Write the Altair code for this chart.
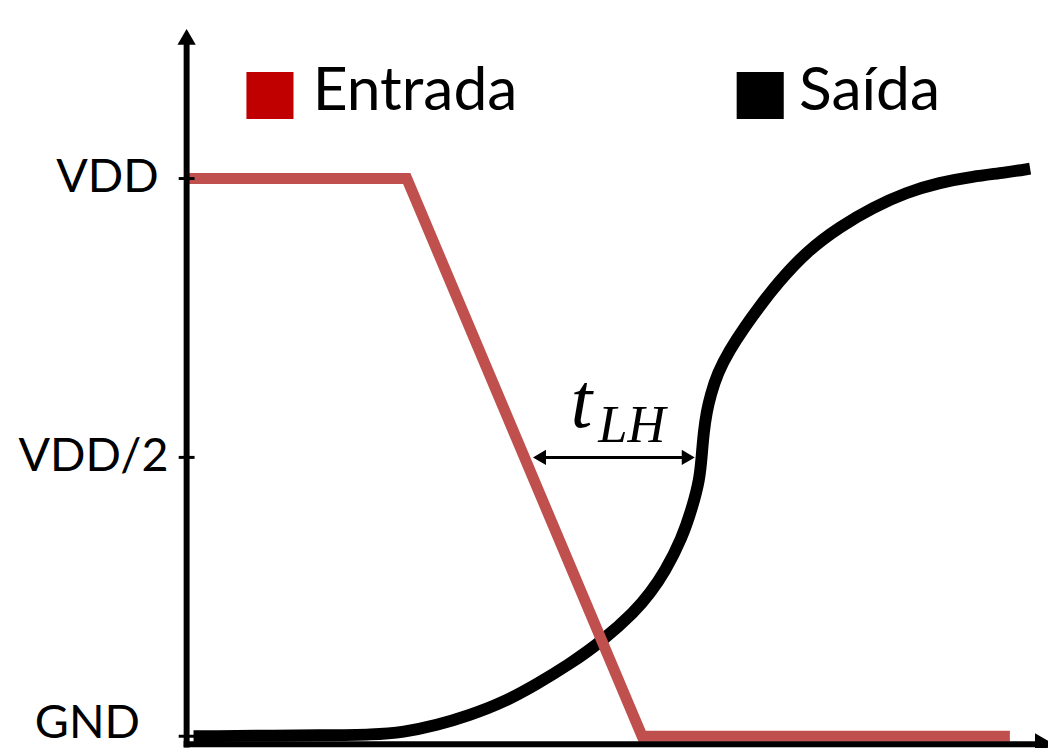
import altair as alt
import pandas as pd

# ---- data (time in arbitrary units, voltage as fraction of VDD) ----
input_t = [0.0, 2.61, 5.40, 9.76]
input_v = [1.0, 1.0, 0.0, 0.0]

output_t = [0.082, 1.788, 2.176, 2.576, 2.965, 3.353, 3.753, 4.141, 4.529, 4.929,
            5.318, 5.494, 5.671, 5.871, 6.000, 6.082, 6.106, 6.129, 6.165, 6.212,
            6.294, 6.435, 6.612, 6.800, 7.000, 7.353, 7.753, 8.141, 8.529, 8.929,
            9.318, 9.706, 10.0]
output_v = [0.0, 0.0018, 0.0027, 0.0071, 0.0196, 0.0374, 0.0605, 0.0925, 0.1281, 0.1708,
            0.2242, 0.2562, 0.2954, 0.3541, 0.4128, 0.4609, 0.5018, 0.5445, 0.5819, 0.6121,
            0.6512, 0.6922, 0.7331, 0.7722, 0.8114, 0.8701, 0.9146, 0.9484, 0.9751, 0.9929,
            1.0036, 1.0107, 1.0178]

tick_levels = [0.0, 0.5, 1.0]
tick_labels = ["GND", "VDD/2", "VDD"]

legend_labels = ["Entrada", "Saída"]
legend_colors = ["#C00000", "#000000"]

delay_label = ("t", "LH")
delay_start_t = 4.106
delay_end_t = 6.024

# ---- scales ----
XS = alt.Scale(domain=[-2.1176, 10.2118], nice=False, zero=False)
YS = alt.Scale(domain=[-0.01601, 1.30071], nice=False, zero=False)


def enc(**kw):
    out = {}
    for k, v in kw.items():
        if k == "x":
            out[k] = alt.X(v, type="quantitative", scale=XS, axis=None)
        elif k == "x2":
            out[k] = alt.X2(v)
        elif k == "y":
            out[k] = alt.Y(v, type="quantitative", scale=YS, axis=None)
        elif k == "y2":
            out[k] = alt.Y2(v)
        else:
            out[k] = v
    return out


df_in = pd.DataFrame({"t": input_t, "v": input_v, "i": range(len(input_t))})
df_out = pd.DataFrame({"t": output_t, "v": output_v, "i": range(len(output_t))})

red_line = alt.Chart(df_in).mark_line(
    color="#C0504D", strokeWidth=11, strokeJoin="miter", strokeCap="butt"
).encode(**enc(x="t", y="v"), order="i:Q")

black_line = alt.Chart(df_out).mark_line(
    color="#000000", strokeWidth=12, interpolate="basis", strokeCap="butt"
).encode(**enc(x="t", y="v"), order="i:Q")

# axes
y_axis = alt.Chart(pd.DataFrame({"t": [0.0], "a": [-0.02], "b": [1.244]})).mark_rule(
    color="black", strokeWidth=6).encode(**enc(x="t", y="a", y2="b"))
x_axis = alt.Chart(pd.DataFrame({"a": [-0.035], "b": [10.08], "v": [-0.0142]})).mark_rule(
    color="black", strokeWidth=6).encode(**enc(x="a", x2="b", y="v"))
y_head = alt.Chart(pd.DataFrame({"t": [0.0], "v": [1.254]})).mark_point(
    shape="triangle-up", filled=True, size=340, color="black", opacity=1, strokeWidth=0
).encode(**enc(x="t", y="v"))
x_head = alt.Chart(pd.DataFrame({"t": [10.17], "v": [-0.0142]})).mark_point(
    shape="triangle-right", filled=True, size=484, color="black", opacity=1, strokeWidth=0
).encode(**enc(x="t", y="v"))

df_ticks = pd.DataFrame({"v": tick_levels, "a": -0.094, "b": 0.094, "lab": tick_labels})
ticks = alt.Chart(df_ticks).mark_rule(color="black", strokeWidth=3).encode(
    **enc(x="a", x2="b", y="v"))

label_pos = {"VDD": (-0.33, 0), "VDD/2": (-0.215, 0), "GND": (-0.553, -12)}
tick_texts = []
for lab, lev in zip(tick_labels, tick_levels):
    tx, dy = label_pos[lab]
    tick_texts.append(
        alt.Chart(pd.DataFrame({"t": [tx], "v": [lev], "lab": [lab]})).mark_text(
            font="Lato", fontSize=47, align="right", baseline="middle", color="black", dy=dy
        ).encode(**enc(x="t", y="v"), text="lab:N")
    )

# legend (manual)
df_leg = pd.DataFrame({"lab": legend_labels, "col": legend_colors,
                       "sq_t": [0.988, 6.80], "tx_t": [1.494, 7.26]})
leg_sq = alt.Chart(df_leg).mark_square(size=2250, opacity=1, strokeWidth=0).encode(
    x=alt.X("sq_t:Q", scale=XS, axis=None), y=alt.Y("v:Q", scale=YS, axis=None),
    color=alt.Color("col:N", scale=None)
).transform_calculate(v="1.149")
leg_tx = alt.Chart(df_leg).mark_text(
    font="Lato", fontSize=61, align="left", baseline="alphabetic", color="black"
).encode(x=alt.X("tx_t:Q", scale=XS, axis=None), y=alt.Y("v:Q", scale=YS, axis=None),
         text="lab:N").transform_calculate(v="1.123")

# delay annotation
arrow_line = alt.Chart(pd.DataFrame({"a": [delay_start_t + 0.05], "b": [delay_end_t - 0.05], "v": [0.5]})).mark_rule(
    color="black", strokeWidth=3).encode(**enc(x="a", x2="b", y="v"))
arrow_l = alt.Chart(pd.DataFrame({"t": [delay_start_t + 0.077], "v": [0.5]})).mark_point(
    shape="triangle-left", filled=True, size=230, color="black", opacity=1, strokeWidth=0
).encode(**enc(x="t", y="v"))
arrow_r = alt.Chart(pd.DataFrame({"t": [delay_end_t - 0.077], "v": [0.5]})).mark_point(
    shape="triangle-right", filled=True, size=230, color="black", opacity=1, strokeWidth=0
).encode(**enc(x="t", y="v"))
t_main = alt.Chart(pd.DataFrame({"t": [4.553], "v": [0.555], "s": [delay_label[0]]})).mark_text(
    font="Liberation Serif", fontStyle="italic", fontSize=78, align="left", baseline="alphabetic", color="black"
).encode(**enc(x="t", y="v"), text="s:N")
t_sub = alt.Chart(pd.DataFrame({"t": [4.88], "v": [0.527], "s": [delay_label[1]]})).mark_text(
    font="Liberation Serif", fontStyle="italic", fontSize=53, align="left", baseline="alphabetic", color="black"
).encode(**enc(x="t", y="v"), text="s:N")

chart = alt.layer(
    black_line, red_line, x_axis, y_axis, y_head, x_head, ticks, *tick_texts,
    leg_sq, leg_tx, arrow_line, arrow_l, arrow_r, t_main, t_sub
).properties(
    width=1048, height=740, padding=0,
    autosize=alt.AutoSizeParams(type="none"),
    background="white"
).configure_view(stroke=None)

chart.save("out.html", embed_options={"renderer": "svg", "actions": False})
